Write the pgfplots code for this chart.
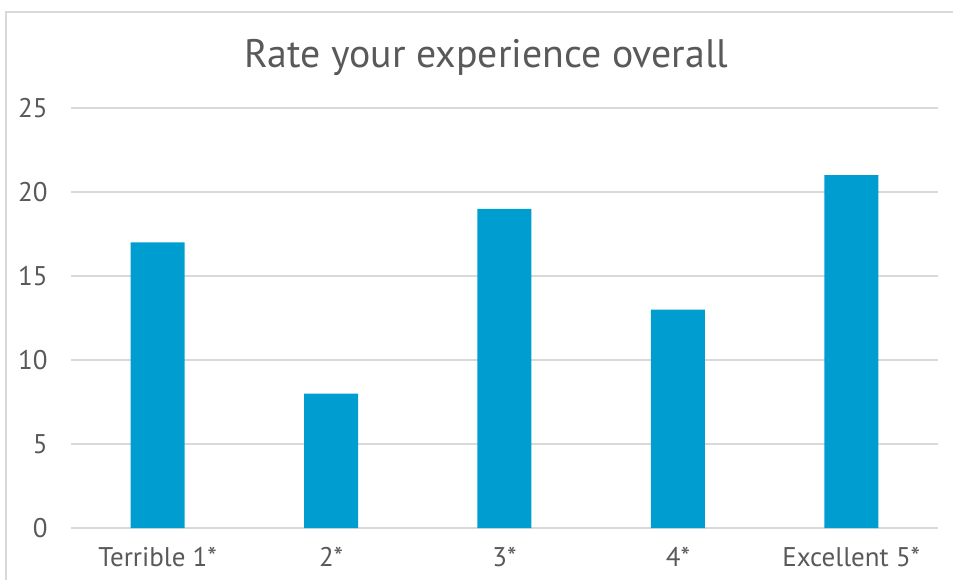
\documentclass[border=0pt]{standalone}
\usepackage{pgfplots}
\pgfplotsset{compat=1.18}
\usepackage{fontspec}
\setmainfont{PT Sans}
\definecolor{barblue}{RGB}{0,158,208}
\definecolor{txt}{RGB}{89,89,89}
\definecolor{gridc}{RGB}{217,217,217}
\begin{document}
\begin{tikzpicture}
\useasboundingbox (0,0) rectangle (476.5pt,289.5pt);
\draw[gridc, line width=0.8pt] (3pt,-1pt) -- (3pt,283.5pt) -- (478pt,283.5pt);
\node[txt, font=\fontsize{19.9}{22}\selectfont, anchor=base, inner sep=0pt] at (243.2pt,255.5pt) {Rate your experience overall};
\begin{axis}[
  at={(35.5pt,25.5pt)}, anchor=south west,
  scale only axis, width=433.5pt, height=210pt,
  xmin=-0.5, xmax=4.5, ymin=0, ymax=25,
  ytick={0,5,...,25}, xtick={0,1,2,3,4},
  xticklabels={Terrible 1*,2*,3*,4*,Excellent 5*},
  axis line style={draw=none},
  major tick length=0pt,
  ymajorgrids, grid style={gridc, line width=0.75pt},
  /pgf/number format/assume math mode=true,
  tick label style={txt, font=\fontsize{13.5}{15}\selectfont, inner sep=0pt},
  yticklabel style={anchor=east, xshift=-11.5pt},
  xticklabel style={anchor=base, yshift=-19pt},
  ybar, bar width=27pt,
]
\addplot[fill=barblue, draw=none] coordinates {(0,17) (1,8) (2,19) (3,13) (4,21)};
\end{axis}
\end{tikzpicture}
\end{document}
